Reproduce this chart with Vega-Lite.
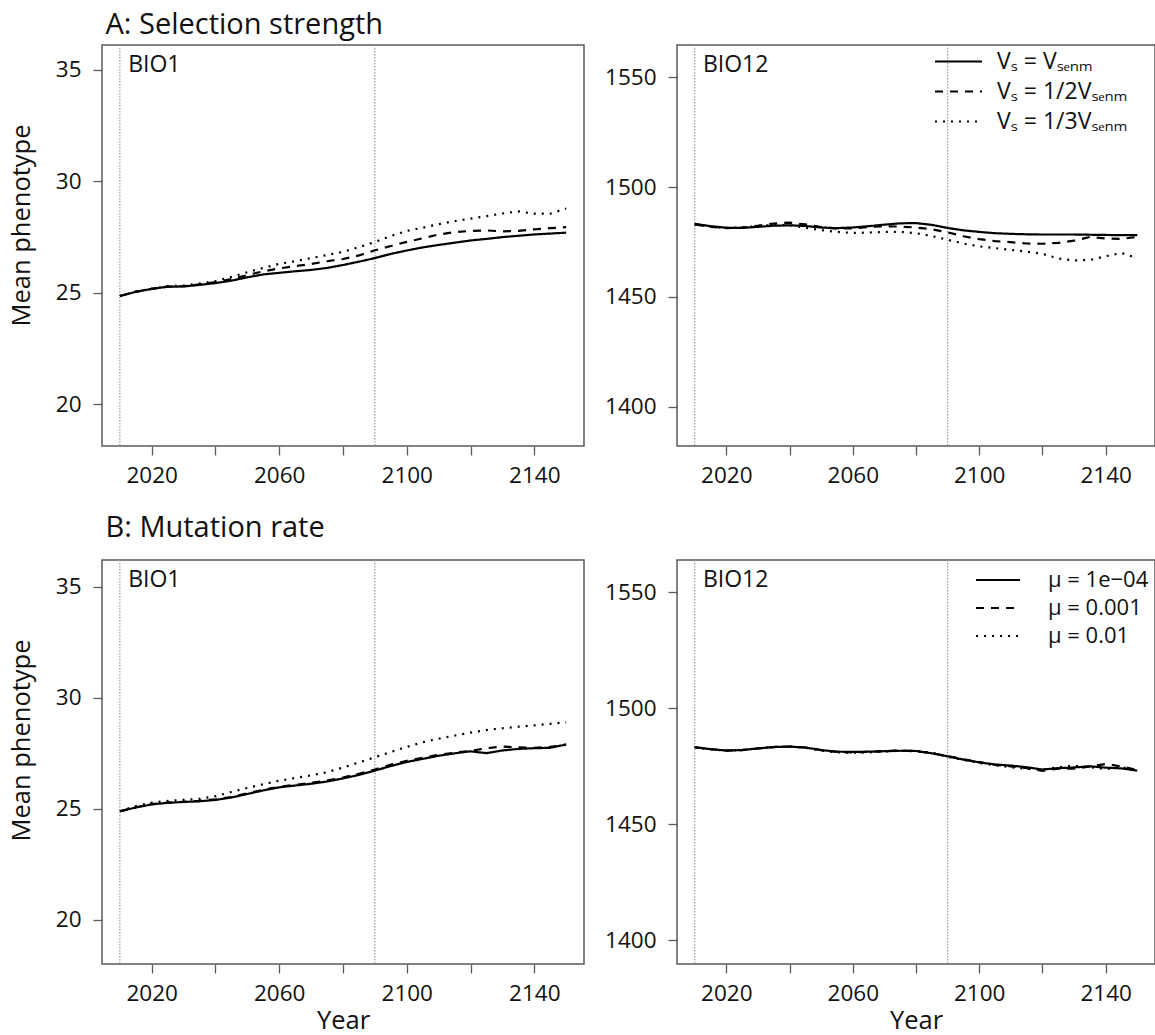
{
  "$schema": "https://vega.github.io/schema/vega-lite/v6.json",
  "background": "white",
  "padding": {"left": 8, "top": 10, "right": 0, "bottom": 0},
  "config": {
    "font": "Open Sans",
    "view": {"stroke": "#5a5a5a", "strokeWidth": 1.5},
    "axis": {
      "domain": false, "grid": false, "format": "d",
      "tickColor": "#5a5a5a", "tickWidth": 1.3, "tickSize": 9,
      "labelFont": "Open Sans", "labelFontSize": 22.5, "labelColor": "#111111",
      "titleFont": "Open Sans", "titleFontSize": 25.5, "titleFontWeight": "normal", "titleColor": "#111111",
      "labelOverlap": false, "labelFlush": false
    },
    "axisX": {"labelPadding": 9, "titlePadding": 4},
    "axisY": {"labelPadding": 12, "titlePadding": 21},
    "title": {"font": "Open Sans", "fontSize": 29, "fontWeight": "normal", "anchor": "start", "color": "#111111", "baseline": "alphabetic"},
    "legend": {"padding": 0}
  },
  "datasets": {
    "guides": [{"year": 2010}, {"year": 2090}],
    "sel_bio1": [
      {"series": "s1", "year": 2010, "value": 24.86}, {"series": "s1", "year": 2015, "value": 25.05}, {"series": "s1", "year": 2020, "value": 25.18}, {"series": "s1", "year": 2025, "value": 25.28}, {"series": "s1", "year": 2030, "value": 25.29}, {"series": "s1", "year": 2035, "value": 25.36}, {"series": "s1", "year": 2040, "value": 25.44}, {"series": "s1", "year": 2045, "value": 25.55}, {"series": "s1", "year": 2050, "value": 25.70}, {"series": "s1", "year": 2055, "value": 25.83}, {"series": "s1", "year": 2060, "value": 25.90}, {"series": "s1", "year": 2065, "value": 25.97}, {"series": "s1", "year": 2070, "value": 26.03}, {"series": "s1", "year": 2075, "value": 26.12}, {"series": "s1", "year": 2080, "value": 26.25}, {"series": "s1", "year": 2085, "value": 26.40}, {"series": "s1", "year": 2090, "value": 26.56}, {"series": "s1", "year": 2095, "value": 26.75}, {"series": "s1", "year": 2100, "value": 26.90}, {"series": "s1", "year": 2105, "value": 27.04}, {"series": "s1", "year": 2110, "value": 27.15}, {"series": "s1", "year": 2115, "value": 27.25}, {"series": "s1", "year": 2120, "value": 27.35}, {"series": "s1", "year": 2125, "value": 27.42}, {"series": "s1", "year": 2130, "value": 27.50}, {"series": "s1", "year": 2135, "value": 27.56}, {"series": "s1", "year": 2140, "value": 27.62}, {"series": "s1", "year": 2145, "value": 27.66}, {"series": "s1", "year": 2150, "value": 27.70},
      {"series": "s2", "year": 2010, "value": 24.86}, {"series": "s2", "year": 2015, "value": 25.05}, {"series": "s2", "year": 2020, "value": 25.18}, {"series": "s2", "year": 2025, "value": 25.28}, {"series": "s2", "year": 2030, "value": 25.30}, {"series": "s2", "year": 2035, "value": 25.38}, {"series": "s2", "year": 2040, "value": 25.48}, {"series": "s2", "year": 2045, "value": 25.62}, {"series": "s2", "year": 2050, "value": 25.80}, {"series": "s2", "year": 2055, "value": 25.97}, {"series": "s2", "year": 2060, "value": 26.10}, {"series": "s2", "year": 2065, "value": 26.20}, {"series": "s2", "year": 2070, "value": 26.30}, {"series": "s2", "year": 2075, "value": 26.42}, {"series": "s2", "year": 2080, "value": 26.52}, {"series": "s2", "year": 2085, "value": 26.68}, {"series": "s2", "year": 2090, "value": 26.91}, {"series": "s2", "year": 2095, "value": 27.10}, {"series": "s2", "year": 2100, "value": 27.29}, {"series": "s2", "year": 2105, "value": 27.45}, {"series": "s2", "year": 2110, "value": 27.62}, {"series": "s2", "year": 2115, "value": 27.72}, {"series": "s2", "year": 2120, "value": 27.78}, {"series": "s2", "year": 2125, "value": 27.80}, {"series": "s2", "year": 2130, "value": 27.76}, {"series": "s2", "year": 2135, "value": 27.78}, {"series": "s2", "year": 2140, "value": 27.85}, {"series": "s2", "year": 2145, "value": 27.90}, {"series": "s2", "year": 2150, "value": 27.95},
      {"series": "s3", "year": 2010, "value": 24.86}, {"series": "s3", "year": 2015, "value": 25.06}, {"series": "s3", "year": 2020, "value": 25.19}, {"series": "s3", "year": 2025, "value": 25.30}, {"series": "s3", "year": 2030, "value": 25.33}, {"series": "s3", "year": 2035, "value": 25.42}, {"series": "s3", "year": 2040, "value": 25.53}, {"series": "s3", "year": 2045, "value": 25.72}, {"series": "s3", "year": 2050, "value": 25.93}, {"series": "s3", "year": 2055, "value": 26.12}, {"series": "s3", "year": 2060, "value": 26.30}, {"series": "s3", "year": 2065, "value": 26.42}, {"series": "s3", "year": 2070, "value": 26.56}, {"series": "s3", "year": 2075, "value": 26.70}, {"series": "s3", "year": 2080, "value": 26.84}, {"series": "s3", "year": 2085, "value": 27.05}, {"series": "s3", "year": 2090, "value": 27.28}, {"series": "s3", "year": 2095, "value": 27.55}, {"series": "s3", "year": 2100, "value": 27.78}, {"series": "s3", "year": 2105, "value": 27.92}, {"series": "s3", "year": 2110, "value": 28.08}, {"series": "s3", "year": 2115, "value": 28.22}, {"series": "s3", "year": 2120, "value": 28.33}, {"series": "s3", "year": 2125, "value": 28.44}, {"series": "s3", "year": 2130, "value": 28.56}, {"series": "s3", "year": 2135, "value": 28.65}, {"series": "s3", "year": 2140, "value": 28.55}, {"series": "s3", "year": 2145, "value": 28.55}, {"series": "s3", "year": 2150, "value": 28.78}
    ],
    "sel_bio12": [
      {"series": "s1", "year": 2010, "value": 1483.3}, {"series": "s1", "year": 2015, "value": 1482.2}, {"series": "s1", "year": 2020, "value": 1481.5}, {"series": "s1", "year": 2025, "value": 1481.4}, {"series": "s1", "year": 2030, "value": 1481.9}, {"series": "s1", "year": 2035, "value": 1482.4}, {"series": "s1", "year": 2040, "value": 1482.6}, {"series": "s1", "year": 2045, "value": 1482.3}, {"series": "s1", "year": 2050, "value": 1481.6}, {"series": "s1", "year": 2055, "value": 1481.3}, {"series": "s1", "year": 2060, "value": 1481.6}, {"series": "s1", "year": 2065, "value": 1482.2}, {"series": "s1", "year": 2070, "value": 1482.9}, {"series": "s1", "year": 2075, "value": 1483.5}, {"series": "s1", "year": 2080, "value": 1483.6}, {"series": "s1", "year": 2085, "value": 1482.8}, {"series": "s1", "year": 2090, "value": 1481.4}, {"series": "s1", "year": 2095, "value": 1480.3}, {"series": "s1", "year": 2100, "value": 1479.6}, {"series": "s1", "year": 2105, "value": 1479.0}, {"series": "s1", "year": 2110, "value": 1478.7}, {"series": "s1", "year": 2115, "value": 1478.5}, {"series": "s1", "year": 2120, "value": 1478.4}, {"series": "s1", "year": 2125, "value": 1478.4}, {"series": "s1", "year": 2130, "value": 1478.4}, {"series": "s1", "year": 2135, "value": 1478.3}, {"series": "s1", "year": 2140, "value": 1478.2}, {"series": "s1", "year": 2145, "value": 1478.1}, {"series": "s1", "year": 2150, "value": 1478.1},
      {"series": "s2", "year": 2010, "value": 1483.0}, {"series": "s2", "year": 2015, "value": 1481.9}, {"series": "s2", "year": 2020, "value": 1481.3}, {"series": "s2", "year": 2025, "value": 1481.5}, {"series": "s2", "year": 2030, "value": 1482.4}, {"series": "s2", "year": 2035, "value": 1483.4}, {"series": "s2", "year": 2040, "value": 1483.8}, {"series": "s2", "year": 2045, "value": 1483.0}, {"series": "s2", "year": 2050, "value": 1481.8}, {"series": "s2", "year": 2055, "value": 1481.1}, {"series": "s2", "year": 2060, "value": 1481.2}, {"series": "s2", "year": 2065, "value": 1481.8}, {"series": "s2", "year": 2070, "value": 1482.2}, {"series": "s2", "year": 2075, "value": 1482.0}, {"series": "s2", "year": 2080, "value": 1481.6}, {"series": "s2", "year": 2085, "value": 1480.8}, {"series": "s2", "year": 2090, "value": 1479.4}, {"series": "s2", "year": 2095, "value": 1477.6}, {"series": "s2", "year": 2100, "value": 1476.3}, {"series": "s2", "year": 2105, "value": 1475.4}, {"series": "s2", "year": 2110, "value": 1474.9}, {"series": "s2", "year": 2115, "value": 1474.3}, {"series": "s2", "year": 2120, "value": 1474.2}, {"series": "s2", "year": 2125, "value": 1474.6}, {"series": "s2", "year": 2130, "value": 1475.6}, {"series": "s2", "year": 2135, "value": 1477.3}, {"series": "s2", "year": 2140, "value": 1476.6}, {"series": "s2", "year": 2145, "value": 1476.4}, {"series": "s2", "year": 2150, "value": 1477.3},
      {"series": "s3", "year": 2010, "value": 1483.0}, {"series": "s3", "year": 2015, "value": 1481.9}, {"series": "s3", "year": 2020, "value": 1481.4}, {"series": "s3", "year": 2025, "value": 1481.6}, {"series": "s3", "year": 2030, "value": 1482.3}, {"series": "s3", "year": 2035, "value": 1482.8}, {"series": "s3", "year": 2040, "value": 1482.6}, {"series": "s3", "year": 2045, "value": 1481.5}, {"series": "s3", "year": 2050, "value": 1480.4}, {"series": "s3", "year": 2055, "value": 1479.6}, {"series": "s3", "year": 2060, "value": 1479.1}, {"series": "s3", "year": 2065, "value": 1479.3}, {"series": "s3", "year": 2070, "value": 1479.6}, {"series": "s3", "year": 2075, "value": 1479.6}, {"series": "s3", "year": 2080, "value": 1479.0}, {"series": "s3", "year": 2085, "value": 1477.7}, {"series": "s3", "year": 2090, "value": 1476.0}, {"series": "s3", "year": 2095, "value": 1474.3}, {"series": "s3", "year": 2100, "value": 1473.0}, {"series": "s3", "year": 2105, "value": 1472.2}, {"series": "s3", "year": 2110, "value": 1471.4}, {"series": "s3", "year": 2115, "value": 1470.6}, {"series": "s3", "year": 2120, "value": 1469.6}, {"series": "s3", "year": 2125, "value": 1467.5}, {"series": "s3", "year": 2130, "value": 1466.6}, {"series": "s3", "year": 2135, "value": 1466.8}, {"series": "s3", "year": 2140, "value": 1468.5}, {"series": "s3", "year": 2145, "value": 1470.0}, {"series": "s3", "year": 2150, "value": 1467.6}
    ],
    "mut_bio1": [
      {"series": "s1", "year": 2010, "value": 24.88}, {"series": "s1", "year": 2015, "value": 25.05}, {"series": "s1", "year": 2020, "value": 25.19}, {"series": "s1", "year": 2025, "value": 25.26}, {"series": "s1", "year": 2030, "value": 25.30}, {"series": "s1", "year": 2035, "value": 25.33}, {"series": "s1", "year": 2040, "value": 25.39}, {"series": "s1", "year": 2045, "value": 25.50}, {"series": "s1", "year": 2050, "value": 25.66}, {"series": "s1", "year": 2055, "value": 25.82}, {"series": "s1", "year": 2060, "value": 25.96}, {"series": "s1", "year": 2065, "value": 26.04}, {"series": "s1", "year": 2070, "value": 26.12}, {"series": "s1", "year": 2075, "value": 26.22}, {"series": "s1", "year": 2080, "value": 26.36}, {"series": "s1", "year": 2085, "value": 26.52}, {"series": "s1", "year": 2090, "value": 26.71}, {"series": "s1", "year": 2095, "value": 26.92}, {"series": "s1", "year": 2100, "value": 27.10}, {"series": "s1", "year": 2105, "value": 27.24}, {"series": "s1", "year": 2110, "value": 27.38}, {"series": "s1", "year": 2115, "value": 27.49}, {"series": "s1", "year": 2120, "value": 27.58}, {"series": "s1", "year": 2125, "value": 27.50}, {"series": "s1", "year": 2130, "value": 27.62}, {"series": "s1", "year": 2135, "value": 27.69}, {"series": "s1", "year": 2140, "value": 27.72}, {"series": "s1", "year": 2145, "value": 27.74}, {"series": "s1", "year": 2150, "value": 27.89},
      {"series": "s2", "year": 2010, "value": 24.88}, {"series": "s2", "year": 2015, "value": 25.06}, {"series": "s2", "year": 2020, "value": 25.20}, {"series": "s2", "year": 2025, "value": 25.27}, {"series": "s2", "year": 2030, "value": 25.31}, {"series": "s2", "year": 2035, "value": 25.35}, {"series": "s2", "year": 2040, "value": 25.42}, {"series": "s2", "year": 2045, "value": 25.52}, {"series": "s2", "year": 2050, "value": 25.69}, {"series": "s2", "year": 2055, "value": 25.85}, {"series": "s2", "year": 2060, "value": 25.98}, {"series": "s2", "year": 2065, "value": 26.07}, {"series": "s2", "year": 2070, "value": 26.16}, {"series": "s2", "year": 2075, "value": 26.27}, {"series": "s2", "year": 2080, "value": 26.40}, {"series": "s2", "year": 2085, "value": 26.57}, {"series": "s2", "year": 2090, "value": 26.76}, {"series": "s2", "year": 2095, "value": 26.98}, {"series": "s2", "year": 2100, "value": 27.15}, {"series": "s2", "year": 2105, "value": 27.29}, {"series": "s2", "year": 2110, "value": 27.42}, {"series": "s2", "year": 2115, "value": 27.52}, {"series": "s2", "year": 2120, "value": 27.60}, {"series": "s2", "year": 2125, "value": 27.72}, {"series": "s2", "year": 2130, "value": 27.80}, {"series": "s2", "year": 2135, "value": 27.76}, {"series": "s2", "year": 2140, "value": 27.74}, {"series": "s2", "year": 2145, "value": 27.78}, {"series": "s2", "year": 2150, "value": 27.88},
      {"series": "s3", "year": 2010, "value": 24.88}, {"series": "s3", "year": 2015, "value": 25.12}, {"series": "s3", "year": 2020, "value": 25.27}, {"series": "s3", "year": 2025, "value": 25.35}, {"series": "s3", "year": 2030, "value": 25.40}, {"series": "s3", "year": 2035, "value": 25.44}, {"series": "s3", "year": 2040, "value": 25.56}, {"series": "s3", "year": 2045, "value": 25.75}, {"series": "s3", "year": 2050, "value": 25.93}, {"series": "s3", "year": 2055, "value": 26.10}, {"series": "s3", "year": 2060, "value": 26.26}, {"series": "s3", "year": 2065, "value": 26.38}, {"series": "s3", "year": 2070, "value": 26.50}, {"series": "s3", "year": 2075, "value": 26.64}, {"series": "s3", "year": 2080, "value": 26.85}, {"series": "s3", "year": 2085, "value": 27.08}, {"series": "s3", "year": 2090, "value": 27.31}, {"series": "s3", "year": 2095, "value": 27.55}, {"series": "s3", "year": 2100, "value": 27.78}, {"series": "s3", "year": 2105, "value": 27.99}, {"series": "s3", "year": 2110, "value": 28.15}, {"series": "s3", "year": 2115, "value": 28.29}, {"series": "s3", "year": 2120, "value": 28.42}, {"series": "s3", "year": 2125, "value": 28.54}, {"series": "s3", "year": 2130, "value": 28.62}, {"series": "s3", "year": 2135, "value": 28.69}, {"series": "s3", "year": 2140, "value": 28.75}, {"series": "s3", "year": 2145, "value": 28.82}, {"series": "s3", "year": 2150, "value": 28.89}
    ],
    "mut_bio12": [
      {"series": "s1", "year": 2010, "value": 1483.2}, {"series": "s1", "year": 2015, "value": 1482.4}, {"series": "s1", "year": 2020, "value": 1481.8}, {"series": "s1", "year": 2025, "value": 1482.0}, {"series": "s1", "year": 2030, "value": 1482.7}, {"series": "s1", "year": 2035, "value": 1483.3}, {"series": "s1", "year": 2040, "value": 1483.5}, {"series": "s1", "year": 2045, "value": 1483.1}, {"series": "s1", "year": 2050, "value": 1482.0}, {"series": "s1", "year": 2055, "value": 1481.3}, {"series": "s1", "year": 2060, "value": 1481.2}, {"series": "s1", "year": 2065, "value": 1481.3}, {"series": "s1", "year": 2070, "value": 1481.5}, {"series": "s1", "year": 2075, "value": 1481.7}, {"series": "s1", "year": 2080, "value": 1481.6}, {"series": "s1", "year": 2085, "value": 1480.6}, {"series": "s1", "year": 2090, "value": 1479.3}, {"series": "s1", "year": 2095, "value": 1477.9}, {"series": "s1", "year": 2100, "value": 1476.7}, {"series": "s1", "year": 2105, "value": 1475.8}, {"series": "s1", "year": 2110, "value": 1475.3}, {"series": "s1", "year": 2115, "value": 1474.6}, {"series": "s1", "year": 2120, "value": 1473.6}, {"series": "s1", "year": 2125, "value": 1474.2}, {"series": "s1", "year": 2130, "value": 1474.5}, {"series": "s1", "year": 2135, "value": 1475.0}, {"series": "s1", "year": 2140, "value": 1474.4}, {"series": "s1", "year": 2145, "value": 1474.1}, {"series": "s1", "year": 2150, "value": 1473.1},
      {"series": "s2", "year": 2010, "value": 1483.2}, {"series": "s2", "year": 2015, "value": 1482.4}, {"series": "s2", "year": 2020, "value": 1481.8}, {"series": "s2", "year": 2025, "value": 1482.0}, {"series": "s2", "year": 2030, "value": 1482.7}, {"series": "s2", "year": 2035, "value": 1483.3}, {"series": "s2", "year": 2040, "value": 1483.5}, {"series": "s2", "year": 2045, "value": 1483.1}, {"series": "s2", "year": 2050, "value": 1482.0}, {"series": "s2", "year": 2055, "value": 1481.2}, {"series": "s2", "year": 2060, "value": 1481.0}, {"series": "s2", "year": 2065, "value": 1481.2}, {"series": "s2", "year": 2070, "value": 1481.6}, {"series": "s2", "year": 2075, "value": 1481.8}, {"series": "s2", "year": 2080, "value": 1481.5}, {"series": "s2", "year": 2085, "value": 1480.7}, {"series": "s2", "year": 2090, "value": 1479.4}, {"series": "s2", "year": 2095, "value": 1478.0}, {"series": "s2", "year": 2100, "value": 1476.8}, {"series": "s2", "year": 2105, "value": 1475.6}, {"series": "s2", "year": 2110, "value": 1475.0}, {"series": "s2", "year": 2115, "value": 1474.2}, {"series": "s2", "year": 2120, "value": 1473.0}, {"series": "s2", "year": 2125, "value": 1474.0}, {"series": "s2", "year": 2130, "value": 1474.0}, {"series": "s2", "year": 2135, "value": 1474.9}, {"series": "s2", "year": 2140, "value": 1476.0}, {"series": "s2", "year": 2145, "value": 1474.9}, {"series": "s2", "year": 2150, "value": 1473.4},
      {"series": "s3", "year": 2010, "value": 1483.2}, {"series": "s3", "year": 2015, "value": 1482.3}, {"series": "s3", "year": 2020, "value": 1481.7}, {"series": "s3", "year": 2025, "value": 1482.1}, {"series": "s3", "year": 2030, "value": 1482.8}, {"series": "s3", "year": 2035, "value": 1483.4}, {"series": "s3", "year": 2040, "value": 1483.5}, {"series": "s3", "year": 2045, "value": 1483.0}, {"series": "s3", "year": 2050, "value": 1481.8}, {"series": "s3", "year": 2055, "value": 1481.0}, {"series": "s3", "year": 2060, "value": 1480.8}, {"series": "s3", "year": 2065, "value": 1481.0}, {"series": "s3", "year": 2070, "value": 1481.4}, {"series": "s3", "year": 2075, "value": 1481.7}, {"series": "s3", "year": 2080, "value": 1481.6}, {"series": "s3", "year": 2085, "value": 1480.9}, {"series": "s3", "year": 2090, "value": 1479.1}, {"series": "s3", "year": 2095, "value": 1477.7}, {"series": "s3", "year": 2100, "value": 1476.5}, {"series": "s3", "year": 2105, "value": 1475.4}, {"series": "s3", "year": 2110, "value": 1474.6}, {"series": "s3", "year": 2115, "value": 1473.9}, {"series": "s3", "year": 2120, "value": 1473.6}, {"series": "s3", "year": 2125, "value": 1474.6}, {"series": "s3", "year": 2130, "value": 1475.3}, {"series": "s3", "year": 2135, "value": 1474.6}, {"series": "s3", "year": 2140, "value": 1473.8}, {"series": "s3", "year": 2145, "value": 1474.6}, {"series": "s3", "year": 2150, "value": 1473.3}
    ]
  },
  "spacing": 25,
  "resolve": {"scale": {"x": "independent", "y": "independent", "strokeDash": "independent"}, "legend": {"strokeDash": "independent"}},
  "vconcat": [
    {
      "title": {"text": "A: Selection strength", "dx": 97, "offset": 4},
      "spacing": 18,
      "resolve": {"scale": {"x": "independent", "y": "independent", "strokeDash": "independent"}, "legend": {"strokeDash": "independent"}},
      "hconcat": [
        {
          "width": 482, "height": 401,
          "layer": [
            {
              "data": {"name": "guides"},
              "mark": {"type": "rule", "stroke": "#9a9a9a", "strokeWidth": 1.2, "strokeDash": [1.5, 1.5]},
              "encoding": {
                "x": {"field": "year", "type": "quantitative", "scale": {"domain": [2004.4, 2155.6], "nice": false, "zero": false},
                      "axis": {"title": null, "values": [2020, 2040, 2060, 2080, 2100, 2120, 2140], "labelExpr": "datum.value % 40 == 20 ? datum.label : ''"}}
              }
            },
            {
              "data": {"name": "sel_bio1"},
              "mark": {"type": "line", "color": "black", "strokeWidth": 2.2},
              "encoding": {
                "x": {"field": "year", "type": "quantitative", "scale": {"domain": [2004.4, 2155.6], "nice": false, "zero": false},
                      "axis": {"title": null, "values": [2020, 2040, 2060, 2080, 2100, 2120, 2140], "labelExpr": "datum.value % 40 == 20 ? datum.label : ''"}},
                "y": {"field": "value", "type": "quantitative", "scale": {"domain": [18.14, 36.11], "nice": false, "zero": false},
                      "axis": {"title": "Mean phenotype", "titleY": 180, "values": [20, 25, 30, 35]}},
                "strokeDash": {"field": "series", "type": "nominal", "scale": {"domain": ["s1", "s2", "s3"], "range": [[1, 0], [8, 7], [2, 6]]}, "legend": null}
              }
            },
            {
              "data": {"values": [{"label": "BIO1"}]},
              "mark": {"type": "text", "align": "left", "baseline": "middle", "fontSize": 23, "color": "#111111"},
              "encoding": {
                "x": {"datum": 2012.6, "type": "quantitative"},
                "y": {"datum": 35.2, "type": "quantitative"},
                "text": {"field": "label"}
              }
            }
          ]
        },
        {
          "width": 478, "height": 401,
          "layer": [
            {
              "data": {"name": "guides"},
              "mark": {"type": "rule", "stroke": "#9a9a9a", "strokeWidth": 1.2, "strokeDash": [1.5, 1.5]},
              "encoding": {
                "x": {"field": "year", "type": "quantitative", "scale": {"domain": [2004.4, 2155.6], "nice": false, "zero": false},
                      "axis": {"title": null, "values": [2020, 2040, 2060, 2080, 2100, 2120, 2140], "labelExpr": "datum.value % 40 == 20 ? datum.label : ''"}}
              }
            },
            {
              "data": {"name": "sel_bio12"},
              "mark": {"type": "line", "color": "black", "strokeWidth": 2.2},
              "encoding": {
                "x": {"field": "year", "type": "quantitative", "scale": {"domain": [2004.4, 2155.6], "nice": false, "zero": false},
                      "axis": {"title": null, "values": [2020, 2040, 2060, 2080, 2100, 2120, 2140], "labelExpr": "datum.value % 40 == 20 ? datum.label : ''"}},
                "y": {"field": "value", "type": "quantitative", "scale": {"domain": [1382.1, 1564.7], "nice": false, "zero": false},
                      "axis": {"title": null, "values": [1400, 1450, 1500, 1550]}},
                "strokeDash": {"field": "series", "type": "nominal", "scale": {"domain": ["s1", "s2", "s3"], "range": [[1, 0], [8, 7], [2, 6]]},
                  "legend": {"title": null, "orient": "none", "legendX": 270, "legendY": 5, "symbolType": "M-4.7,0H4.7", "symbolSize": 100,
                    "symbolStrokeWidth": 2, "symbolStrokeColor": "black", "symbolFillColor": "transparent",
                    "labelFontSize": 23, "labelColor": "#111111", "labelOffset": 27, "rowPadding": 6, "labelLimit": 0,
                    "labelExpr": "datum.value == 's1' ? 'Vₛ = Vₛₑₙₘ' : datum.value == 's2' ? 'Vₛ = 1/2Vₛₑₙₘ' : 'Vₛ = 1/3Vₛₑₙₘ'"}}
              }
            },
            {
              "data": {"values": [{"label": "BIO12"}]},
              "mark": {"type": "text", "align": "left", "baseline": "middle", "fontSize": 23, "color": "#111111"},
              "encoding": {
                "x": {"datum": 2012.6, "type": "quantitative"},
                "y": {"datum": 1555.5, "type": "quantitative"},
                "text": {"field": "label"}
              }
            }
          ]
        }
      ]
    },
    {
      "title": {"text": "B: Mutation rate", "dx": 97, "offset": 16},
      "spacing": 18,
      "resolve": {"scale": {"x": "independent", "y": "independent", "strokeDash": "independent"}, "legend": {"strokeDash": "independent"}},
      "hconcat": [
        {
          "width": 482, "height": 404,
          "layer": [
            {
              "data": {"name": "guides"},
              "mark": {"type": "rule", "stroke": "#9a9a9a", "strokeWidth": 1.2, "strokeDash": [1.5, 1.5]},
              "encoding": {
                "x": {"field": "year", "type": "quantitative", "scale": {"domain": [2004.4, 2155.6], "nice": false, "zero": false},
                      "axis": {"title": "Year", "values": [2020, 2040, 2060, 2080, 2100, 2120, 2140], "labelExpr": "datum.value % 40 == 20 ? datum.label : ''"}}
              }
            },
            {
              "data": {"name": "mut_bio1"},
              "mark": {"type": "line", "color": "black", "strokeWidth": 2.2},
              "encoding": {
                "x": {"field": "year", "type": "quantitative", "scale": {"domain": [2004.4, 2155.6], "nice": false, "zero": false},
                      "axis": {"title": "Year", "values": [2020, 2040, 2060, 2080, 2100, 2120, 2140], "labelExpr": "datum.value % 40 == 20 ? datum.label : ''"}},
                "y": {"field": "value", "type": "quantitative", "scale": {"domain": [18.0, 36.2], "nice": false, "zero": false},
                      "axis": {"title": "Mean phenotype", "titleY": 180, "values": [20, 25, 30, 35]}},
                "strokeDash": {"field": "series", "type": "nominal", "scale": {"domain": ["s1", "s2", "s3"], "range": [[1, 0], [8, 7], [2, 6]]}, "legend": null}
              }
            },
            {
              "data": {"values": [{"label": "BIO1"}]},
              "mark": {"type": "text", "align": "left", "baseline": "middle", "fontSize": 23, "color": "#111111"},
              "encoding": {
                "x": {"datum": 2012.6, "type": "quantitative"},
                "y": {"datum": 35.3, "type": "quantitative"},
                "text": {"field": "label"}
              }
            }
          ]
        },
        {
          "width": 478, "height": 404,
          "layer": [
            {
              "data": {"name": "guides"},
              "mark": {"type": "rule", "stroke": "#9a9a9a", "strokeWidth": 1.2, "strokeDash": [1.5, 1.5]},
              "encoding": {
                "x": {"field": "year", "type": "quantitative", "scale": {"domain": [2004.4, 2155.6], "nice": false, "zero": false},
                      "axis": {"title": "Year", "values": [2020, 2040, 2060, 2080, 2100, 2120, 2140], "labelExpr": "datum.value % 40 == 20 ? datum.label : ''"}}
              }
            },
            {
              "data": {"name": "mut_bio12"},
              "mark": {"type": "line", "color": "black", "strokeWidth": 2.2},
              "encoding": {
                "x": {"field": "year", "type": "quantitative", "scale": {"domain": [2004.4, 2155.6], "nice": false, "zero": false},
                      "axis": {"title": "Year", "values": [2020, 2040, 2060, 2080, 2100, 2120, 2140], "labelExpr": "datum.value % 40 == 20 ? datum.label : ''"}},
                "y": {"field": "value", "type": "quantitative", "scale": {"domain": [1389.7, 1564.0], "nice": false, "zero": false},
                      "axis": {"title": null, "values": [1400, 1450, 1500, 1550]}},
                "strokeDash": {"field": "series", "type": "nominal", "scale": {"domain": ["s1", "s2", "s3"], "range": [[1, 0], [8, 7], [2, 6]]},
                  "legend": {"title": null, "orient": "none", "legendX": 310, "legendY": 9, "symbolType": "M-4.4,0H4.4", "symbolSize": 100,
                    "symbolStrokeWidth": 2, "symbolStrokeColor": "black", "symbolFillColor": "transparent",
                    "labelFontSize": 22, "labelColor": "#111111", "labelOffset": 39, "rowPadding": 6, "labelLimit": 0,
                    "labelExpr": "datum.value == 's1' ? 'μ = 1e−04' : datum.value == 's2' ? 'μ = 0.001' : 'μ = 0.01'"}}
              }
            },
            {
              "data": {"values": [{"label": "BIO12"}]},
              "mark": {"type": "text", "align": "left", "baseline": "middle", "fontSize": 23, "color": "#111111"},
              "encoding": {
                "x": {"datum": 2012.6, "type": "quantitative"},
                "y": {"datum": 1555.4, "type": "quantitative"},
                "text": {"field": "label"}
              }
            }
          ]
        }
      ]
    }
  ]
}
